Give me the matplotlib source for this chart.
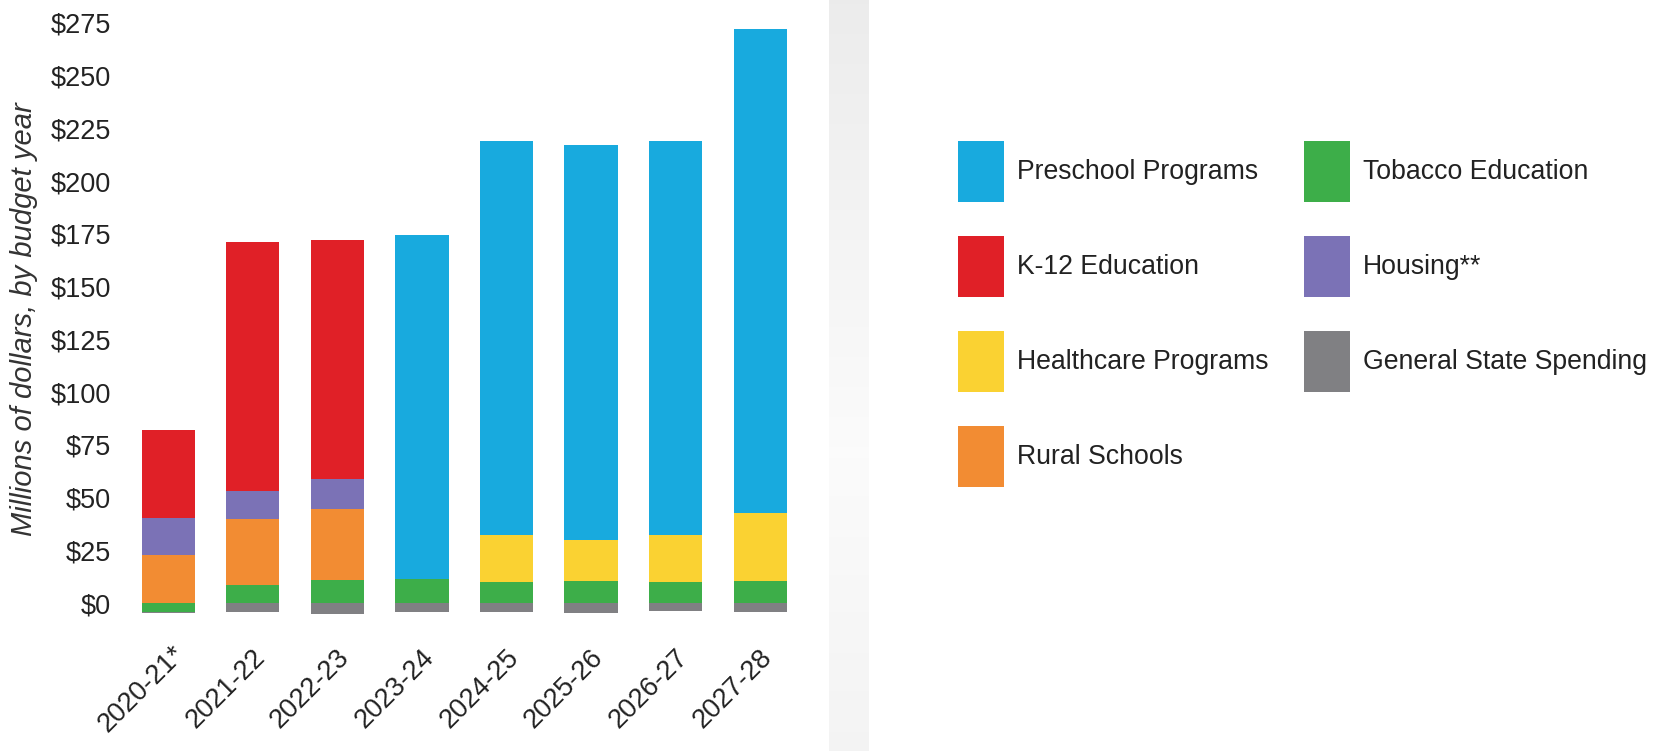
import numpy as np
import matplotlib.pyplot as plt
import matplotlib.transforms as mtransforms

years = ['2020-21*', '2021-22', '2022-23', '2023-24', '2024-25', '2025-26', '2026-27', '2027-28']

# millions of dollars per budget year
tobacco = [-4.0, 8.5, 11.0, 11.5, 10.0, 10.5, 10.0, 10.5]
general = [-0.5, -4.0, -5.0, -4.0, -4.0, -4.5, -3.5, -4.0]
rural = [23.0, 31.5, 33.8, 0, 0, 0, 0, 0]
healthcare = [0, 0, 0, 0, 22.5, 19.5, 22.5, 32.3]
housing = [17.5, 13.0, 14.0, 0, 0, 0, 0, 0]
k12 = [41.5, 118.2, 113.2, 0, 0, 0, 0, 0]
preschool = [0, 0, 0, 163.0, 186.5, 187.0, 186.5, 229.2]

yticks = list(range(0, 276, 25))

colors = {
    'Preschool Programs': '#18aade',
    'K-12 Education': '#e02027',
    'Healthcare Programs': '#fad232',
    'Rural Schools': '#f28c33',
    'Tobacco Education': '#3dae49',
    'Housing**': '#7b72b6',
    'General State Spending': '#808083',
}

font = ['Liberation Sans', 'DejaVu Sans']

fig = plt.figure(figsize=(16.57, 7.51), dpi=100)
W, H = 1657, 751

# light gray separator band
band = fig.add_axes([829 / W, 0, 40 / W, 1])
g = np.interp(np.linspace(0, 1, 200), [0, 0.6, 1], [0.925, 0.985, 0.955])
img = np.stack([g, g, g], axis=-1)[:, None, :].repeat(2, axis=1)
band.imshow(img, aspect='auto', extent=(0, 1, 0, 1))
band.set_axis_off()

# axes: x from 120 to 800 px, y from 6 to 620 px (top origin)
ax = fig.add_axes([120 / W, (H - 620) / H, 680 / W, 614 / H])
x = np.arange(len(years))
width = 0.63

pos_bottom = np.zeros(len(years))
neg_bottom = np.zeros(len(years))
handles = {}


def stack(vals, name):
    global pos_bottom, neg_bottom
    vals = np.array(vals, dtype=float)
    base = np.where(vals >= 0, pos_bottom, neg_bottom)
    b = ax.bar(x, vals, width, bottom=base, color=colors[name], label=name, linewidth=0)
    pos_bottom = pos_bottom + np.where(vals > 0, vals, 0)
    neg_bottom = neg_bottom + np.where(vals < 0, vals, 0)
    handles[name] = b


stack(tobacco, 'Tobacco Education')
stack(general, 'General State Spending')
stack(rural, 'Rural Schools')
stack(healthcare, 'Healthcare Programs')
stack(housing, 'Housing**')
stack(k12, 'K-12 Education')
stack(preschool, 'Preschool Programs')

ax.set_xlim(-0.57, 7.47)
ax.set_ylim(-8, 283)
for s in ax.spines.values():
    s.set_visible(False)

ax.set_yticks(yticks)
ax.set_yticklabels(['$' + str(v) for v in yticks], family=font, fontsize=19.5, color='#222222')
ax.tick_params(axis='y', length=0, pad=6.5)

ax.set_xticks(x)
ax.set_xticklabels(years, family=font, fontsize=19.5, color='#222222',
                   rotation=45, ha='center', va='center', rotation_mode='anchor')
ax.tick_params(axis='x', length=0, pad=0)
offset = mtransforms.ScaledTranslation(-0.27, -0.69, fig.dpi_scale_trans)
for lab in ax.get_xticklabels():
    lab.set_transform(lab.get_transform() + offset)

fig.text(24 / W, 1 - 319 / H, 'Millions of dollars, by budget year', rotation=90,
         ha='center', va='center', fontsize=21, style='italic', color='#333333',
         family=font)

order = ['Preschool Programs', 'K-12 Education', 'Healthcare Programs', 'Rural Schools',
         'Tobacco Education', 'Housing**', 'General State Spending']
leg = fig.legend([handles[n] for n in order], order, loc='upper left',
                 bbox_to_anchor=(958 / W, 1 - 141 / H), ncol=2, frameon=False,
                 borderpad=0, borderaxespad=0, handlelength=1.72, handleheight=3.12,
                 handletextpad=0.49, labelspacing=1.29, columnspacing=1.34,
                 prop={'family': font, 'size': 19.2})
for t in leg.get_texts():
    t.set_color('#222222')

plt.savefig('out.png', dpi=100)
